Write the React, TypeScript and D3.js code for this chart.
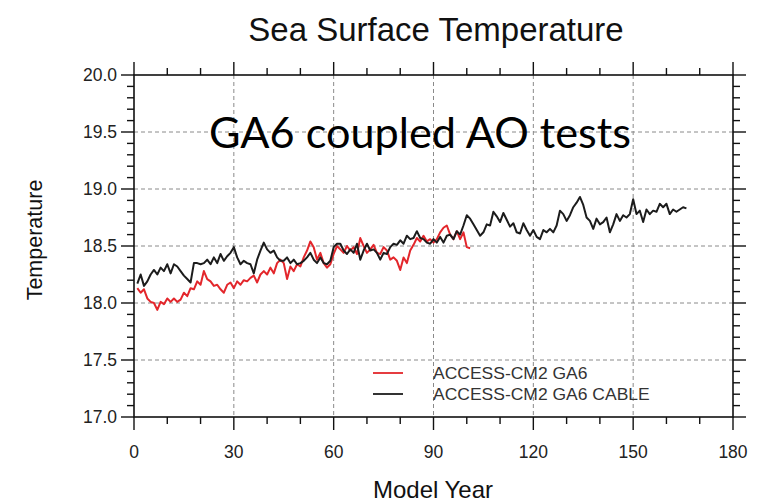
import React from "react";
import * as d3 from "d3";

// ---- Data ----
const seriesNames = ["ACCESS-CM2 GA6", "ACCESS-CM2 GA6 CABLE"];
const seriesColors = ["#e3262b", "#1c1c1c"];

// ACCESS-CM2 GA6, model years 1..101
const ga6Values = [
  18.13, 18.09, 18.12, 18.04, 18.01, 18.0, 17.94, 18.01, 17.99, 18.04,
  18.01, 18.04, 18.01, 18.03, 18.09, 18.06, 18.13, 18.12, 18.19, 18.16,
  18.28, 18.21, 18.19, 18.15, 18.16, 18.12, 18.09, 18.16, 18.18, 18.13,
  18.19, 18.16, 18.2, 18.19, 18.22, 18.24, 18.18, 18.25, 18.28, 18.25,
  18.31, 18.26, 18.35, 18.38, 18.35, 18.21, 18.32, 18.28, 18.34, 18.32,
  18.4, 18.46, 18.54, 18.49, 18.38, 18.44, 18.35, 18.31, 18.34, 18.43,
  18.5, 18.47, 18.44, 18.5, 18.46, 18.49, 18.43, 18.57, 18.5, 18.44,
  18.47, 18.51, 18.44, 18.43, 18.49, 18.46, 18.38, 18.4, 18.37, 18.29,
  18.4, 18.35, 18.46, 18.51, 18.57, 18.54, 18.59, 18.54, 18.56, 18.53,
  18.56, 18.62, 18.66, 18.68, 18.6, 18.56, 18.63, 18.56, 18.62, 18.49,
  18.48,
];

// ACCESS-CM2 GA6 CABLE, model years 1..166
const cableValues = [
  18.17, 18.25, 18.15, 18.19, 18.25, 18.29, 18.25, 18.31, 18.28, 18.34,
  18.26, 18.34, 18.32, 18.28, 18.24, 18.21, 18.18, 18.35, 18.35, 18.34,
  18.35, 18.38, 18.34, 18.4, 18.35, 18.43, 18.37, 18.41, 18.44, 18.49,
  18.4, 18.34, 18.37, 18.35, 18.34, 18.26, 18.38, 18.46, 18.53, 18.47,
  18.44, 18.46, 18.4, 18.37, 18.37, 18.4, 18.35, 18.38, 18.34, 18.35,
  18.37, 18.4, 18.44, 18.38, 18.35, 18.4, 18.35, 18.34, 18.37, 18.49,
  18.52, 18.52, 18.46, 18.43, 18.47, 18.44, 18.52, 18.38, 18.46, 18.52,
  18.46, 18.47, 18.44, 18.38, 18.44, 18.43, 18.49, 18.52, 18.51, 18.55,
  18.52, 18.59, 18.56, 18.57, 18.63, 18.57, 18.56, 18.53, 18.52, 18.56,
  18.53, 18.58, 18.53, 18.59, 18.6, 18.56, 18.63, 18.6, 18.68, 18.77,
  18.74, 18.69, 18.64, 18.59, 18.62, 18.69, 18.68, 18.8, 18.76, 18.71,
  18.79, 18.73, 18.67, 18.7, 18.62, 18.61, 18.7, 18.64, 18.59, 18.64,
  18.58, 18.56, 18.64, 18.62, 18.65, 18.62, 18.68, 18.81, 18.78, 18.72,
  18.77, 18.84, 18.88, 18.93, 18.86, 18.75, 18.72, 18.65, 18.74, 18.69,
  18.71, 18.75, 18.62, 18.69, 18.78, 18.72, 18.77, 18.75, 18.78, 18.91,
  18.78, 18.81, 18.71, 18.82, 18.78, 18.81, 18.8, 18.87, 18.84, 18.87,
  18.78, 18.82, 18.8, 18.82, 18.84, 18.83,
];

const xTicks = [0, 30, 60, 90, 120, 150, 180];
const yTicks = [17.0, 17.5, 18.0, 18.5, 19.0, 19.5, 20.0];
const titleText = "Sea Surface Temperature";
const xTitle = "Model Year";
const yTitle = "Temperature";
const overlayText = "GA6 coupled AO tests";

// ---- Layout ----
const W = 762;
const H = 503;
const L = 134, R = 733, T = 75, B = 417;
const MAJ = 13, MIN = 7;
const FONT = "'Liberation Sans', Arial, Helvetica, sans-serif";

export default function App() {
  const x = d3.scaleLinear().domain([0, 180]).range([L, R]);
  const y = d3.scaleLinear().domain([17, 20]).range([B, T]);

  const line = d3
    .line<number>()
    .x((_, i) => x(i + 1))
    .y((v) => y(v));

  const xMinor = d3.range(0, 181, 10).filter((v) => v % 30 !== 0);
  const yMinor = d3.range(170, 201, 1).map((v) => v / 10).filter((v) => Math.round(v * 10) % 5 !== 0);

  const series = [ga6Values, cableValues];

  return (
    <svg
      width={W}
      height={H}
      style={{ position: "absolute", left: 0, top: 0, background: "#fff" }}
    >
      <rect x={0} y={0} width={W} height={H} fill="#fff" />
      {/* Grid */}
      <g stroke="#8a8a8a" strokeWidth={1} strokeDasharray="4,3">
        {xTicks.slice(1, -1).map((t) => (
          <line key={"gx" + t} x1={x(t)} x2={x(t)} y1={T} y2={B} />
        ))}
        {yTicks.slice(1, -1).map((t) => (
          <line key={"gy" + t} x1={L} x2={R} y1={y(t)} y2={y(t)} />
        ))}
      </g>

      {/* Series */}
      {series.map((s, i) => (
        <path
          key={"s" + i}
          d={line(s) || ""}
          fill="none"
          stroke={seriesColors[i]}
          strokeWidth={2}
          strokeLinejoin="round"
        />
      ))}

      {/* Frame */}
      <rect x={L} y={T} width={R - L} height={B - T} fill="none" stroke="#111" strokeWidth={1.6} />

      {/* Ticks */}
      <g stroke="#111" strokeWidth={1.4}>
        {xTicks.map((t) => (
          <g key={"xt" + t}>
            <line x1={x(t)} x2={x(t)} y1={B} y2={B + MAJ} />
            <line x1={x(t)} x2={x(t)} y1={T} y2={T - MAJ} />
          </g>
        ))}
        {xMinor.map((t) => (
          <g key={"xm" + t}>
            <line x1={x(t)} x2={x(t)} y1={B} y2={B + MIN} />
            <line x1={x(t)} x2={x(t)} y1={T} y2={T - MIN} />
          </g>
        ))}
        {yTicks.map((t) => (
          <g key={"yt" + t}>
            <line x1={L} x2={L - MAJ} y1={y(t)} y2={y(t)} />
            <line x1={R} x2={R + MAJ} y1={y(t)} y2={y(t)} />
          </g>
        ))}
        {yMinor.map((t) => (
          <g key={"ym" + t}>
            <line x1={L} x2={L - MIN} y1={y(t)} y2={y(t)} />
            <line x1={R} x2={R + MIN} y1={y(t)} y2={y(t)} />
          </g>
        ))}
      </g>

      {/* Tick labels */}
      <g fontFamily={FONT} fontSize={17.5} fill="#222">
        {yTicks.map((t) => (
          <text key={"yl" + t} x={117} y={y(t) + 6} textAnchor="end">
            {t.toFixed(1)}
          </text>
        ))}
        {xTicks.map((t) => (
          <text key={"xl" + t} x={x(t)} y={458} textAnchor="middle">
            {String(t)}
          </text>
        ))}
      </g>

      {/* Titles */}
      <text x={436} y={41} textAnchor="middle" fontFamily={FONT} fontSize={33} fill="#111">
        {titleText}
      </text>
      <text x={433} y={498} textAnchor="middle" fontFamily={FONT} fontSize={24} fill="#111">
        {xTitle}
      </text>
      <text
        transform="translate(42,240) rotate(-90)"
        textAnchor="middle"
        fontFamily={FONT}
        fontSize={21.5}
        fill="#111"
      >
        {yTitle}
      </text>

      {/* Overlay annotation */}
      <text
        x={209}
        y={148}
        fontFamily="Lato, 'Open Sans', sans-serif"
        fontSize={42}
        textLength={422}
        lengthAdjust="spacingAndGlyphs"
        fill="#000"
      >
        {overlayText}
      </text>

      {/* Legend */}
      {seriesNames.map((n, i) => (
        <g key={"lg" + i}>
          <line
            x1={373}
            x2={403}
            y1={373 + i * 21}
            y2={373 + i * 21}
            stroke={seriesColors[i]}
            strokeWidth={1.8}
          />
          <text
            transform={`translate(433,${379 + i * 21}) scale(1.06,1)`}
            fontFamily={FONT}
            fontSize={16.5}
            fill="#333"
          >
            {n}
          </text>
        </g>
      ))}
    </svg>
  );
}
